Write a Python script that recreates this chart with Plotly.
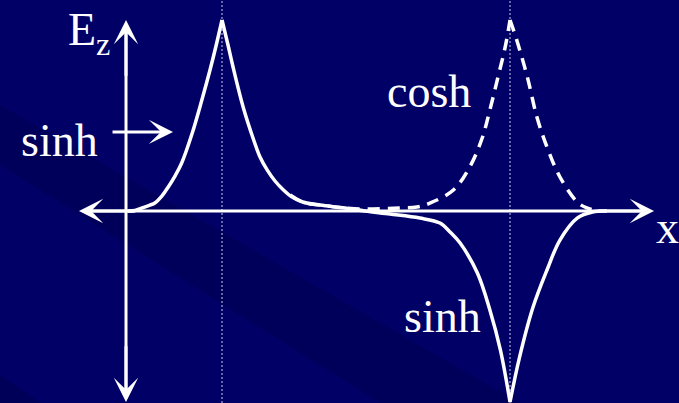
import plotly.graph_objects as go

# ---- data (x in units of the core-1 position, Ez normalised to peak) ----
core_x = [1.0, 4.0]

sinh_x = [0.02, 0.094, 0.17, 0.25, 0.30, 0.375, 0.44, 0.51, 0.58, 0.69, 0.79, 0.875, 0.9375, 1.0,
          1.0625, 1.115, 1.22, 1.33, 1.396, 1.47, 1.552, 1.64, 1.73, 1.84, 2.02, 2.28, 2.49,
          2.75, 3.06, 3.27, 3.375, 3.48, 3.66, 3.79, 3.90, 4.0,
          4.10, 4.24, 4.385, 4.52, 4.70, 4.86, 5.01]
sinh_y = [0, 0.003, 0.016, 0.031, 0.042, 0.079, 0.126, 0.183, 0.251, 0.408, 0.581, 0.738, 0.864, 1.0,
          0.869, 0.754, 0.545, 0.372, 0.283, 0.215, 0.157, 0.110, 0.073, 0.047, 0.031, 0.016, 0,
          -0.016, -0.037, -0.063, -0.110, -0.168, -0.325, -0.518, -0.728, -1.0,
          -0.764, -0.503, -0.309, -0.152, -0.037, -0.005, 0]

cosh_x = [1.71, 1.84, 2.02, 2.28, 2.49, 2.85, 3.03, 3.17, 3.41, 3.58, 3.71,
          3.79, 3.875, 3.95, 4.0,
          4.07, 4.18, 4.28, 4.385, 4.52, 4.70, 4.80, 4.94]
cosh_y = [0.084, 0.047, 0.031, 0.016, 0.010, 0.016, 0.021, 0.042, 0.110, 0.230, 0.382,
          0.529, 0.702, 0.859, 1.0,
          0.895, 0.702, 0.492, 0.335, 0.178, 0.047, 0.016, 0]

labels = ["E<sub>z</sub>", "sinh", "cosh", "sinh", "x"]

# axis extents
x_left, x_right = -0.49, 5.5
y_top, y_bottom = 1.0, -1.0

BG = "#000066"
WHITE = "white"
FONT = "Liberation Serif"

fig = go.Figure()

def split_at_cusps(xs, ys):
    # split a curve at its peaks (cusps) so each part is smoothed separately
    idx = [0]
    for i in range(1, len(ys) - 1):
        if abs(ys[i]) == 1.0:
            idx.append(i)
    idx.append(len(ys) - 1)
    return [(xs[a:b + 1], ys[a:b + 1]) for a, b in zip(idx[:-1], idx[1:])]

for sx, sy in split_at_cusps(sinh_x, sinh_y):
    fig.add_trace(go.Scatter(x=sx, y=sy, mode="lines",
                             line=dict(color=WHITE, width=3.5, shape="spline", smoothing=1.0),
                             hoverinfo="skip", showlegend=False))

for cx, cy in split_at_cusps(cosh_x, cosh_y):
    fig.add_trace(go.Scatter(x=cx, y=cy, mode="lines",
                             line=dict(color=WHITE, width=3.5, shape="spline", smoothing=1.0,
                                       dash="12px,8px"),
                             hoverinfo="skip", showlegend=False))

shapes = []
# subtle darker diagonal band in the background
shapes.append(dict(type="path", xref="paper", yref="paper",
                   path="M 0 0.739 L 0.766 0 L 0.56 0 L 0 0.591 Z",
                   fillcolor="rgba(0,0,40,0.18)", line=dict(width=0), layer="below"))
shapes.append(dict(type="path", xref="paper", yref="paper",
                   path="M 0 0.07 L 0.06 0 L 0 0 Z",
                   fillcolor="rgba(0,0,40,0.2)", line=dict(width=0), layer="below"))
# dotted core centre lines
for cx in core_x:
    shapes.append(dict(type="line", xref="x", yref="paper", x0=cx, x1=cx, y0=0, y1=1,
                       line=dict(color="rgba(215,215,235,0.95)", width=1, dash="2px,2px"),
                       layer="below"))
# axes lines
shapes.append(dict(type="line", xref="x", yref="y", x0=x_left + 0.1, x1=x_right - 0.1, y0=0, y1=0,
                   line=dict(color=WHITE, width=3)))
shapes.append(dict(type="line", xref="x", yref="y", x0=0, x1=0, y0=y_bottom + 0.05, y1=y_top - 0.05,
                   line=dict(color=WHITE, width=3)))

ann = []
def arrowhead(tx, ty, fx, fy):
    ann.append(dict(x=tx, y=ty, ax=fx, ay=fy, xref="x", yref="y", axref="x", ayref="y",
                    text="", showarrow=True, arrowhead=3, arrowsize=1.35, arrowwidth=3,
                    arrowcolor=WHITE))

arrowhead(0, y_top, 0, y_top - 0.3)
arrowhead(0, y_bottom, 0, y_bottom + 0.3)
arrowhead(x_left, 0, x_left + 0.6, 0)
arrowhead(x_right, 0, x_right - 0.6, 0)
# pointer arrow next to upper "sinh"
arrowhead(0.49, 0.414, -0.156, 0.414)

def label(text, x, y, yanchor="middle", size=46):
    ann.append(dict(x=x, y=y, xref="x", yref="y", text=text, showarrow=False,
                    xanchor="left", yanchor=yanchor,
                    font=dict(family=FONT, size=size, color=WHITE)))

label(labels[0], -0.625, 1.094, yanchor="top")
label(labels[1], -1.115, 0.369)
label(labels[2], 2.70, 0.626)
label(labels[3], 2.875, -0.552)
label(labels[4], 5.50, -0.086)

fig.update_layout(
    width=679, height=403, margin=dict(l=0, r=0, t=0, b=0),
    paper_bgcolor=BG, plot_bgcolor=BG,
    xaxis=dict(range=[-1.3125, 5.760], visible=False, fixedrange=True),
    yaxis=dict(range=[-1.0052, 1.1047], visible=False, fixedrange=True),
    shapes=shapes, annotations=ann, showlegend=False,
)

fig.write_html("out.html", config={"displayModeBar": False},
               post_script="document.body.style.margin='0';document.body.style.background='#000066';")
